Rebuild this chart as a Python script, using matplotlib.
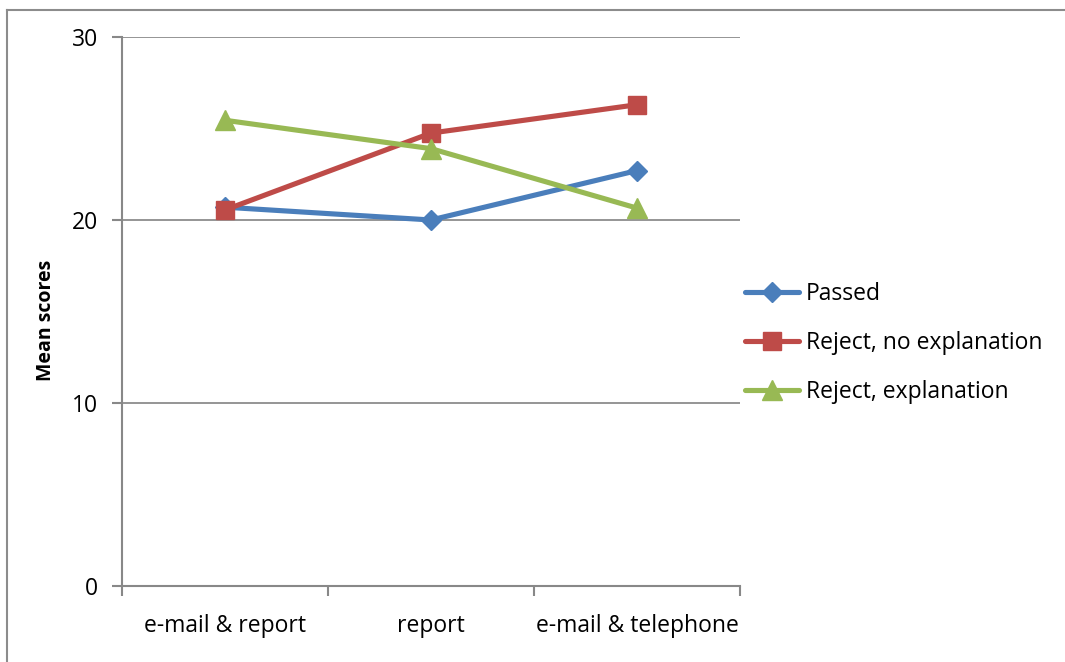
import matplotlib
matplotlib.use("Agg")
import matplotlib.pyplot as plt
from matplotlib.lines import Line2D

categories = ["e-mail & report", "report", "e-mail & telephone"]
passed = [20.7, 20.0, 22.7]
reject_no_expl = [20.55, 24.75, 26.3]
reject_expl = [25.45, 23.9, 20.65]
series_names = ["Passed", "Reject, no explanation", "Reject, explanation"]
y_ticks = [0, 10, 20, 30]

plt.rcParams["font.family"] = ["Open Sans", "DejaVu Sans"]

W, H = 1065, 662
fig = plt.figure(figsize=(W / 100, H / 100), dpi=100)
ax = fig.add_axes([122 / W, 1 - 586 / H, (740 - 122) / W, (586 - 37) / H])

colors = ["#4a7ebb", "#be4b48", "#98b954"]
markers = ["D", "s", "^"]
msizes = [10.5, 13.5, 15]
x = list(range(len(categories)))
for vals, name, c, m, ms in zip([passed, reject_no_expl, reject_expl],
                                series_names, colors, markers, msizes):
    ax.plot(x, vals, color=c, lw=3.7, marker=m, ms=ms, mec=c, mfc=c,
            label=name, solid_capstyle="round", zorder=3)

ax.set_xlim(-0.5, len(categories) - 0.5)
ax.set_ylim(0, 30)
ax.set_yticks(y_ticks)
ax.set_yticklabels([str(v) for v in y_ticks])
ax.set_xticks([i - 0.5 for i in range(len(categories) + 1)], minor=False)
ax.set_xticklabels([])
ax.set_xticks(x, minor=True)
ax.set_xticklabels(categories, minor=True)
ax.tick_params(axis="x", which="minor", length=0, pad=20, labelsize=16.5)
ax.tick_params(axis="x", which="major", length=7, width=1.5, color="#888888", direction="out")
ax.tick_params(axis="y", length=7, width=1.5, color="#888888", labelsize=16.5, pad=10)
ax.yaxis.grid(True, color="#8c8c8c", lw=1.3)
ax.set_axisbelow(True)
for s in ["top", "right"]:
    ax.spines[s].set_visible(False)
for s in ["left", "bottom"]:
    ax.spines[s].set_color("#888888")
    ax.spines[s].set_linewidth(1.5)
ax.set_ylabel("Mean scores", fontsize=14, fontweight="bold")
ax.yaxis.set_label_coords(-0.107, 0.484)

leg = fig.legend(handles=ax.get_lines(), labels=series_names,
                 loc="center left", bbox_to_anchor=(745 / W, 1 - 343 / H),
                 frameon=False, fontsize=16.5, handlelength=2.35,
                 handletextpad=0.32, labelspacing=1.1,
                 borderpad=0, borderaxespad=0)

# outer chart frame
fig.add_artist(Line2D([7 / W, 1], [1 - 10 / H, 1 - 10 / H], color="#8c8c8c", lw=1.5))
fig.add_artist(Line2D([7 / W, 7 / W], [0, 1 - 10 / H], color="#8c8c8c", lw=1.5))

fig.savefig("out.png", dpi=100)
